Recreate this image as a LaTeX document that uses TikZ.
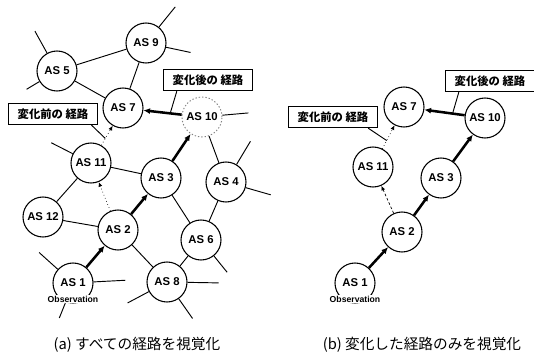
\documentclass[tikz,border=0pt]{standalone}
\usepackage{fontspec}
\setmainfont{Liberation Sans}
\newfontfamily\jpfont{Noto Sans CJK JP}
\usetikzlibrary{arrows.meta, positioning}

\begin{document}
\begin{tikzpicture}[
      x=0.75pt, y=0.75pt,
      font=\bfseries\fontsize{8.5}{10}\selectfont,
      asnode/.style={draw, circle, fill=white, line width=0.8pt, minimum size=30pt, inner sep=0pt},
      newas/.style={circle, draw=gray, dash pattern=on 1pt off 1.5pt, line width=0.7pt, fill=white, minimum size=30pt, inner sep=0pt},
      link/.style={line width=0.7pt},
      route/.style={-{Latex[length=5pt,width=4.5pt]}, line width=1.9pt},
      oldroute/.style={-{Latex[length=3.5pt,width=3pt]}, line width=0.5pt, dotted},
      tag/.style={draw, fill=white, line width=0.8pt, minimum width=67pt, minimum height=16pt, inner sep=2pt,
        font=\jpfont\bfseries\fontsize{8.5}{10}\selectfont},
      obs/.style={fill=white, inner sep=0.5pt, font=\bfseries\fontsize{6.5}{7}\selectfont},
      caption/.style={font=\jpfont\fontsize{11}{13}\selectfont}
    ]
    \useasboundingbox (0,0) rectangle (534,356);

    % (a) all routes
    \node[asnode] (a9) at (146,313) {AS 9};
    \node[asnode] (a5) at (57,285) {AS 5};
    \node[asnode] (a7) at (123,248) {AS 7};
    \node[newas] (a10) at (202,239) {AS 10};
    \node[asnode] (a11) at (91,193) {AS 11};
    \node[asnode] (a3) at (161,178) {AS 3};
    \node[asnode] (a4) at (226,174) {AS 4};
    \node[asnode] (a12) at (43,139) {AS 12};
    \node[asnode] (a2) at (118,126) {AS 2};
    \node[asnode] (a6) at (201,116) {AS 6};
    \node[asnode] (a1) at (73,73) {AS 1};
    \node[asnode] (a8) at (167,74) {AS 8};
    \node[obs] (obsa) at ([yshift=-12pt]a1.center) {Observation};

    \draw[link] (a5) -- (a9);
    \draw[link] (a5) -- (a7);
    \draw[link] (a9) -- (a7);
    \draw[link] (a11) -- (a3);
    \draw[link] (a11) -- (a12);
    \draw[link] (a12) -- (a2);
    \draw[link] (a2) -- (a8);
    \draw[link] (a3) -- (a6);
    \draw[link] (a4) -- (a6);
    \draw[link] (a6) -- (a8);
    \draw[link] (a10) -- (a4);

    % links leaving the picture
    \draw[link] (a9.51) -- ++(51:26);
    \draw[link] (a9.-12) -- ++(-12:25);
    \draw[link] (a5.119) -- ++(119:25);
    \draw[link] (a5.211) -- ++(211:15);
    \draw[link] (a11.153) -- ++(153:24);
    \draw[link] (a10.5) -- ++(5:26);
    \draw[link] (a4.59) -- ++(59:27);
    \draw[link] (a4.-16) -- ++(-16:26);
    \draw[link] (a6.-51) -- ++(-51:21);
    \draw[link] (a8.-1) -- ++(-1:31);
    \draw[link] (a8.208) -- ++(208:24);
    \draw[link] (a8.-55) -- ++(-55:24);
    \draw[link] (a1.138) -- ++(138:25);
    \draw[link] (a1.3) -- ++(3:32);
    \draw[link] (obsa.south -| a1.248) -- ++(248:16);

    \draw[route] (a1) -- (a2);
    \draw[route] (a2) -- (a3);
    \draw[route] (a3) -- (a10);
    \draw[route] (a10) -- coordinate[pos=0.3] (ka) (a7);
    \draw[oldroute] (a2) -- (a11);
    \draw[oldroute] (a11) -- coordinate[pos=0.35] (kb) (a7);

    \node[tag] (aafter) at (208,276) {変化後の 経路};
    \node[tag] (abefore) at (53,242) {変化前の 経路};
    \draw[link] ([xshift=10.5pt]aafter.south west) -- (ka);
    \draw[link] ([xshift=-5pt]abefore.south east) -- (kb);

    \node[caption] (capa) at (137,11) {(a) すべての経路を視覚化};

    % (b) changed routes only
    \node[asnode] (b7) at (404,249) {AS 7};
    \node[asnode] (b10) at (485,238) {AS 10};
    \node[asnode] (b11) at (373,189) {AS 11};
    \node[asnode] (b3) at (441,178) {AS 3};
    \node[asnode] (b2) at (402,124) {AS 2};
    \node[asnode] (b1) at (355,73) {AS 1};
    \node[obs] (obsb) at ([yshift=-12pt]b1.center) {Observation};

    \draw[route] (b1) -- (b2);
    \draw[route] (b2) -- (b3);
    \draw[route] (b3) -- (b10);
    \draw[route] (b10) -- coordinate[pos=0.3] (kc) (b7);
    \draw[oldroute, dash pattern=on 2pt off 1.5pt] (b2) -- (b11);
    \draw[oldroute] (b11) -- coordinate[pos=0.35] (kd) (b7);

    \node[tag] (bafter) at (490,275) {変化後の 経路};
    \node[tag] (bbefore) at (333,239) {変化前の 経路};
    \draw[link] ([xshift=10.5pt]bafter.south west) -- (kc);
    \draw[link] ([xshift=-7.5pt]bbefore.south east) -- (kd);

    \node[caption] (capb) at (422,11) {(b) 変化した経路のみを視覚化};

    \end{tikzpicture}
\end{document}
